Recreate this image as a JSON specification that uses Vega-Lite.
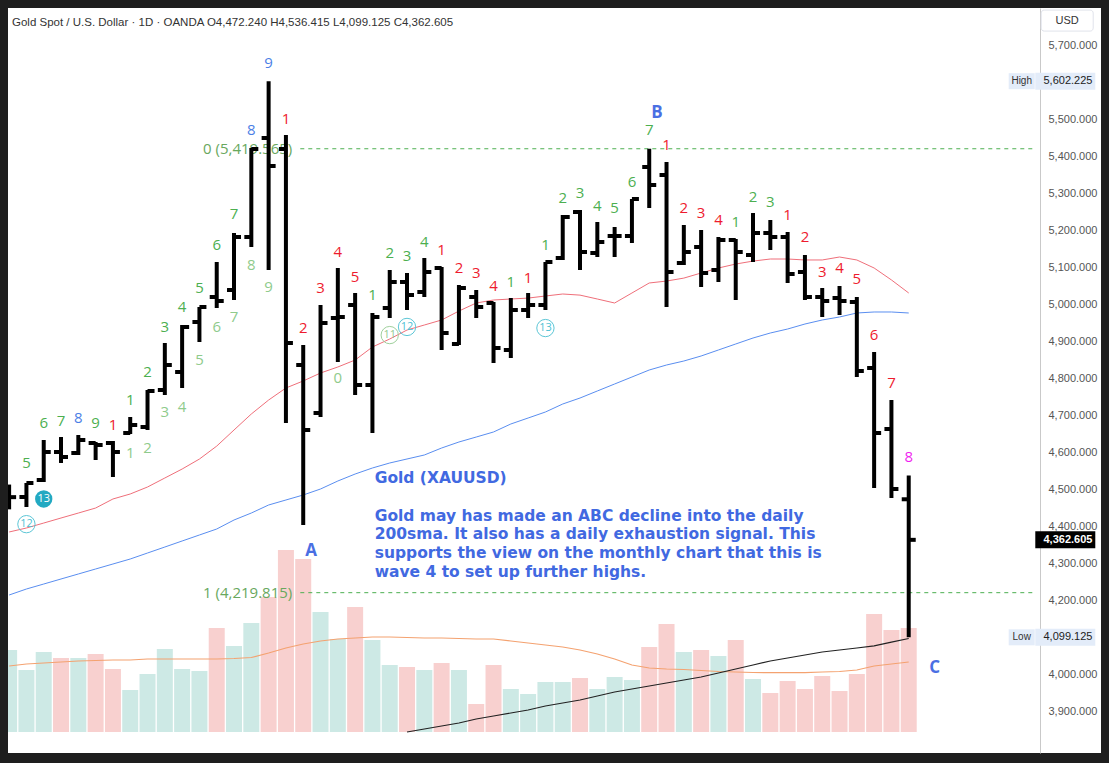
{
"$schema": "https://vega.github.io/schema/vega-lite/v6.json",
"width": 1093, "height": 745, "autosize": "none",
"padding": {"left": 8, "top": 8, "right": 8, "bottom": 10},
"background": "#1e1e1e",
"config": {"view": {"fill": "#ffffff", "stroke": null}, "font": "Liberation Sans"},
"title": {"text": "Gold Spot / U.S. Dollar · 1D · OANDA  O4,472.240   H4,536.415   L4,099.125   C4,362.605", "anchor": "start", "frame": "group", "dx": 4, "dy": 24, "font": "Liberation Sans", "fontSize": 11.5, "fontWeight": "normal", "color": "#333333"},
"datasets": {
"ohlc": [
{"i":-2,"o":4485,"h":4512,"l":4445,"c":4478},
{"i":-1,"o":4478.4,"h":4516.2,"l":4451.4,"c":4516.2},
{"i":0,"o":4524.3,"h":4632.4,"l":4518.9,"c":4600},
{"i":1,"o":4600,"h":4640.5,"l":4570.3,"c":4586.5},
{"i":2,"o":4597.3,"h":4645.9,"l":4591.9,"c":4632.4},
{"i":3,"o":4624.3,"h":4627,"l":4578.4,"c":4618.9},
{"i":4,"o":4624.3,"h":4629.7,"l":4532.4,"c":4600},
{"i":5,"o":4651.4,"h":4694.6,"l":4648.7,"c":4673},
{"i":6,"o":4667.6,"h":4767.6,"l":4659.5,"c":4764.9},
{"i":7,"o":4767.6,"h":4894.6,"l":4754.1,"c":4835.1},
{"i":8,"o":4816.2,"h":4943.2,"l":4773,"c":4937.8},
{"i":9,"o":4951.4,"h":4991.9,"l":4897.3,"c":4991.9},
{"i":10,"o":5018.9,"h":5113.5,"l":4989.2,"c":5008.1},
{"i":11,"o":5037.8,"h":5191.9,"l":5010.8,"c":5181.1},
{"i":12,"o":5181.1,"h":5421.6,"l":5154.1,"c":5418.9},
{"i":13,"o":5448.6,"h":5602.225,"l":5091.9,"c":5373},
{"i":14,"o":5418.9,"h":5456.8,"l":4678.4,"c":4894.6},
{"i":15,"o":4835.1,"h":4889.2,"l":4402.7,"c":4659.5},
{"i":16,"o":4705.4,"h":4997.3,"l":4694.6,"c":4948.6},
{"i":17,"o":4962.2,"h":5097.3,"l":4843.2,"c":4964.9},
{"i":18,"o":4997.3,"h":5029.7,"l":4754.1,"c":4781.1},
{"i":19,"o":4781.1,"h":4975.7,"l":4651.4,"c":4964.9},
{"i":20,"o":4989.2,"h":5091.9,"l":4962.2,"c":5059.5},
{"i":21,"o":5059.5,"h":5083.8,"l":4983.8,"c":5024.3},
{"i":22,"o":5032.4,"h":5124.3,"l":5018.9,"c":5086.5},
{"i":23,"o":5097.3,"h":5100,"l":4875.7,"c":4921.6},
{"i":24,"o":4891.9,"h":5051.4,"l":4889.2,"c":5043.2},
{"i":25,"o":5018.9,"h":5037.8,"l":4962.2,"c":4991.9},
{"i":26,"o":5002.7,"h":5005.4,"l":4840.5,"c":4881.1},
{"i":27,"o":4875.7,"h":5016.2,"l":4854,"c":4983.8},
{"i":28,"o":4983.8,"h":5029.7,"l":4962.2,"c":4997.3},
{"i":29,"o":4997.3,"h":5113.5,"l":4983.8,"c":5113.5},
{"i":30,"o":5124.3,"h":5240.5,"l":5118.9,"c":5235.1},
{"i":31,"o":5248.6,"h":5254,"l":5091.9,"c":5140.5},
{"i":32,"o":5137.8,"h":5221.6,"l":5127,"c":5167.6},
{"i":33,"o":5183.8,"h":5208.1,"l":5127,"c":5183.8},
{"i":34,"o":5183.8,"h":5283.8,"l":5164.9,"c":5283.8},
{"i":35,"o":5370.3,"h":5419.6,"l":5259.5,"c":5321.6},
{"i":36,"o":5348.6,"h":5383.8,"l":4991.9,"c":5086.5},
{"i":37,"o":5110.8,"h":5213.5,"l":5105.4,"c":5140.5},
{"i":38,"o":5154.1,"h":5200,"l":5045.9,"c":5083.8},
{"i":39,"o":5091.9,"h":5181.1,"l":5059.5,"c":5173},
{"i":40,"o":5173,"h":5175.7,"l":5010.8,"c":5140.5},
{"i":41,"o":5132.4,"h":5245.9,"l":5113.5,"c":5191.9},
{"i":42,"o":5191.9,"h":5227,"l":5145.9,"c":5181.1},
{"i":43,"o":5181.1,"h":5194.6,"l":5056.8,"c":5081.1},
{"i":44,"o":5086.5,"h":5132.4,"l":5010.8,"c":5018.9},
{"i":45,"o":5018.9,"h":5043.2,"l":4964.9,"c":5008.1},
{"i":46,"o":5016.2,"h":5048.6,"l":4970.3,"c":5008.1},
{"i":47,"o":5005.4,"h":5018.9,"l":4802.7,"c":4818.9},
{"i":48,"o":4827,"h":4870.3,"l":4502.7,"c":4651.4},
{"i":49,"o":4662.2,"h":4740.5,"l":4475.7,"c":4500},
{"i":50,"o":4472.24,"h":4536.415,"l":4099.125,"c":4362.605}
],
"vol": [
{"i":-2,"v":82,"d":"up"},{"i":-1,"v":62,"d":"up"},{"i":0,"v":80,"d":"up"},{"i":1,"v":74,"d":"down"},{"i":2,"v":74,"d":"up"},{"i":3,"v":78,"d":"down"},{"i":4,"v":63,"d":"down"},{"i":5,"v":42,"d":"up"},{"i":6,"v":58,"d":"up"},{"i":7,"v":83,"d":"up"},{"i":8,"v":63,"d":"up"},{"i":9,"v":61,"d":"up"},{"i":10,"v":104,"d":"down"},{"i":11,"v":86,"d":"up"},{"i":12,"v":109,"d":"up"},{"i":13,"v":135,"d":"down"},{"i":14,"v":182,"d":"down"},{"i":15,"v":173,"d":"down"},{"i":16,"v":120,"d":"up"},{"i":17,"v":93,"d":"up"},{"i":18,"v":125,"d":"down"},{"i":19,"v":92,"d":"up"},{"i":20,"v":67,"d":"up"},{"i":21,"v":65,"d":"down"},{"i":22,"v":62,"d":"up"},{"i":23,"v":69,"d":"down"},{"i":24,"v":62,"d":"up"},{"i":25,"v":28,"d":"down"},{"i":26,"v":67,"d":"down"},{"i":27,"v":43,"d":"up"},{"i":28,"v":38,"d":"up"},{"i":29,"v":50,"d":"up"},{"i":30,"v":50,"d":"up"},{"i":31,"v":54,"d":"down"},{"i":32,"v":43,"d":"up"},{"i":33,"v":55,"d":"up"},{"i":34,"v":52,"d":"up"},{"i":35,"v":85,"d":"down"},{"i":36,"v":108,"d":"down"},{"i":37,"v":80,"d":"up"},{"i":38,"v":82,"d":"down"},{"i":39,"v":76,"d":"up"},{"i":40,"v":92,"d":"down"},{"i":41,"v":53,"d":"up"},{"i":42,"v":39,"d":"down"},{"i":43,"v":51,"d":"down"},{"i":44,"v":43,"d":"down"},{"i":45,"v":56,"d":"down"},{"i":46,"v":41,"d":"down"},{"i":47,"v":58,"d":"down"},{"i":48,"v":118,"d":"down"},{"i":49,"v":102,"d":"down"},{"i":50,"v":104,"d":"down"}
],
"ma": [
{"i":-2,"r":4383.8,"b":4213.5,"vm":66},
{"i":-1,"r":4394.6,"b":4229.7,"vm":68},
{"i":0,"r":4408,"b":4243.2,"vm":69},
{"i":1,"r":4421.6,"b":4256.8,"vm":70},
{"i":2,"r":4435,"b":4270.3,"vm":71},
{"i":3,"r":4448.6,"b":4283.8,"vm":71.5},
{"i":4,"r":4473,"b":4297.3,"vm":72},
{"i":5,"r":4486.5,"b":4310.8,"vm":72},
{"i":6,"r":4505.4,"b":4327,"vm":73},
{"i":7,"r":4529.7,"b":4343.2,"vm":73},
{"i":8,"r":4554,"b":4359.5,"vm":73},
{"i":9,"r":4581,"b":4375.7,"vm":73},
{"i":10,"r":4616,"b":4391.9,"vm":73},
{"i":11,"r":4659.5,"b":4416.2,"vm":73.5},
{"i":12,"r":4702.7,"b":4435.1,"vm":74.5},
{"i":13,"r":4740.5,"b":4456.8,"vm":79},
{"i":14,"r":4773,"b":4470.3,"vm":84},
{"i":15,"r":4792,"b":4483.8,"vm":88},
{"i":16,"r":4813.5,"b":4500,"vm":91},
{"i":17,"r":4829.7,"b":4521.6,"vm":93},
{"i":18,"r":4848.6,"b":4540.5,"vm":94},
{"i":19,"r":4883.8,"b":4556.8,"vm":95},
{"i":20,"r":4905.4,"b":4570.3,"vm":95},
{"i":21,"r":4929.7,"b":4581.1,"k":3843.2,"vm":94.5},
{"i":22,"r":4943.2,"b":4591.9,"k":3851.4,"vm":94},
{"i":23,"r":4956.8,"b":4610.8,"k":3859.5,"vm":94},
{"i":24,"r":4981,"b":4627,"k":3867.6,"vm":93.5},
{"i":25,"r":5002.7,"b":4640.5,"k":3878.4,"vm":93},
{"i":26,"r":5010.8,"b":4654.1,"k":3886.5,"vm":93},
{"i":27,"r":5013.5,"b":4675.7,"k":3894.6,"vm":91},
{"i":28,"r":5016,"b":4691.9,"k":3902.7,"vm":89},
{"i":29,"r":5021.6,"b":4708.1,"k":3913.5,"vm":87},
{"i":30,"r":5027,"b":4729.7,"k":3921.6,"vm":85},
{"i":31,"r":5024,"b":4745.9,"k":3929.7,"vm":82},
{"i":32,"r":5013.5,"b":4764.9,"k":3940.5,"vm":78},
{"i":33,"r":5002.7,"b":4783.8,"k":3951.4,"vm":73},
{"i":34,"r":5029.7,"b":4802.7,"k":3959.5,"vm":67},
{"i":35,"r":5056.8,"b":4821.6,"k":3967.6,"vm":64},
{"i":36,"r":5062,"b":4835.1,"k":3975.7,"vm":63},
{"i":37,"r":5070,"b":4845.9,"k":3983.8,"vm":62.5},
{"i":38,"r":5083.8,"b":4859.5,"k":3991.9,"vm":61.5},
{"i":39,"r":5097.3,"b":4875.7,"k":4002.7,"vm":60.5},
{"i":40,"r":5108,"b":4891.9,"k":4013.5,"vm":60},
{"i":41,"r":5116,"b":4908.1,"k":4024.3,"vm":59.5},
{"i":42,"r":5121.6,"b":4921.6,"k":4035.1,"vm":59.4},
{"i":43,"r":5121.6,"b":4932.4,"k":4043.2,"vm":59.4},
{"i":44,"r":5119,"b":4945.9,"k":4051.4,"vm":59.4},
{"i":45,"r":5119,"b":4956.8,"k":4059.5,"vm":60},
{"i":46,"r":5127,"b":4964.9,"k":4064.9,"vm":60.5},
{"i":47,"r":5119,"b":4975.7,"k":4070.3,"vm":62},
{"i":48,"r":5097.3,"b":4978.4,"k":4076,"vm":66},
{"i":49,"r":5065,"b":4978.4,"k":4086,"vm":68},
{"i":50,"r":5029.7,"b":4975.7,"k":4096,"vm":70}
],
"td": [
{"i":-1,"p":4570,"t":"5","c":"g"},{"i":0,"p":4678,"t":"6","c":"g"},{"i":1,"p":4684,"t":"7","c":"g"},{"i":2,"p":4692,"t":"8","c":"b"},{"i":3,"p":4678,"t":"9","c":"g"},{"i":4,"p":4673,"t":"1","c":"r"},
{"i":5,"p":4740,"t":"1","c":"g"},{"i":5,"p":4597,"t":"1","c":"lg"},{"i":6,"p":4816,"t":"2","c":"g"},{"i":6,"p":4611,"t":"2","c":"lg"},{"i":7,"p":4938,"t":"3","c":"g"},{"i":7,"p":4708,"t":"3","c":"lg"},{"i":8,"p":4992,"t":"4","c":"g"},{"i":8,"p":4722,"t":"4","c":"lg"},{"i":9,"p":5043,"t":"5","c":"g"},{"i":9,"p":4849,"t":"5","c":"lg"},{"i":10,"p":5159,"t":"6","c":"g"},{"i":10,"p":4938,"t":"6","c":"lg"},{"i":11,"p":5243,"t":"7","c":"g"},{"i":11,"p":4965,"t":"7","c":"lg"},{"i":12,"p":5470,"t":"8","c":"b"},{"i":12,"p":5105,"t":"8","c":"lg"},{"i":13,"p":5651,"t":"9","c":"b"},{"i":13,"p":5046,"t":"9","c":"lg"},
{"i":14,"p":5500,"t":"1","c":"r"},{"i":15,"p":4935,"t":"2","c":"r"},{"i":16,"p":5043,"t":"3","c":"r"},{"i":17,"p":5140,"t":"4","c":"r"},{"i":17,"p":4800,"t":"0","c":"lg"},{"i":18,"p":5073,"t":"5","c":"r"},
{"i":19,"p":5024,"t":"1","c":"g"},{"i":20,"p":5138,"t":"2","c":"g"},{"i":21,"p":5130,"t":"3","c":"g"},{"i":22,"p":5168,"t":"4","c":"g"},{"i":23,"p":5146,"t":"1","c":"r"},{"i":24,"p":5097,"t":"2","c":"r"},{"i":25,"p":5084,"t":"3","c":"r"},{"i":26,"p":5049,"t":"4","c":"r"},{"i":27,"p":5060,"t":"1","c":"g"},{"i":28,"p":5070,"t":"1","c":"r"},{"i":29,"p":5159,"t":"1","c":"g"},
{"i":30,"p":5286,"t":"2","c":"g"},{"i":31,"p":5300,"t":"3","c":"g"},{"i":32,"p":5265,"t":"4","c":"g"},{"i":33,"p":5259,"t":"5","c":"g"},{"i":34,"p":5330,"t":"6","c":"g"},{"i":35,"p":5470,"t":"7","c":"g"},
{"i":36,"p":5430,"t":"1","c":"r"},{"i":37,"p":5259,"t":"2","c":"r"},{"i":38,"p":5246,"t":"3","c":"r"},{"i":39,"p":5227,"t":"4","c":"r"},{"i":40,"p":5222,"t":"1","c":"g"},{"i":41,"p":5289,"t":"2","c":"g"},{"i":42,"p":5276,"t":"3","c":"g"},
{"i":43,"p":5241,"t":"1","c":"r"},{"i":44,"p":5181,"t":"2","c":"r"},{"i":45,"p":5086,"t":"3","c":"r"},{"i":46,"p":5097,"t":"4","c":"r"},{"i":47,"p":5068,"t":"5","c":"r"},{"i":48,"p":4916,"t":"6","c":"r"},{"i":49,"p":4786,"t":"7","c":"r"},{"i":50,"p":4586,"t":"8","c":"m"}
],
"circ": [
{"i":-1,"p":4405,"t":"12","s":"ring"},
{"i":0,"p":4473,"t":"13","s":"fill"},
{"i":20,"p":4916,"t":"11","s":"ringg"},
{"i":21,"p":4938,"t":"12","s":"ring"},
{"i":29,"p":4935,"t":"13","s":"ring"}
],
"abc": [
{"i":15.46,"p":4332,"t":"A"},{"i":35.45,"p":5516,"t":"B"},{"i":51.5,"p":4016,"t":"C"}
],
"fib": [
{"i":14.83,"i2":57.33,"p":5419.565,"t":"0 (5,419.565)"},
{"i":14.83,"i2":57.33,"p":4219.815,"t":"1 (4,219.815)"}
],
"note": [
{"i":19.13,"p":4529.7,"t":"Gold (XAUUSD)"}
],
"para": [
{"i":19.13,"p":4447,"t":"Gold may has made an ABC decline into the daily\n200sma. It also has a daily exhaustion signal. This\nsupports the view on the monthly chart that this is\nwave 4 to set up further highs."}
],
"tags": [
{"p":5602.225,"label":"5,602.225","tag":"High","kind":"hl"},
{"p":4099.125,"label":"4,099.125","tag":"Low","kind":"hl"},
{"p":4362.605,"label":"4,362.605","tag":"","kind":"last"}
],
"usd": [{"p":5766,"t":"USD"}]
},
"layer": [
 {"data": {"name": "vol"}, "mark": {"type": "bar", "width": 16, "clip": true},
  "encoding": {"x": {"field": "i", "type": "quantitative", "scale": {"domain": [-1.776, 60.825], "nice": false, "zero": false}, "axis": null},
   "y": {"field": "v", "type": "quantitative", "scale": {"domain": [-21, 724], "nice": false, "zero": false}, "axis": null},
   "y2": {"datum": 0},
   "fill": {"field": "d", "type": "nominal", "scale": {"domain": ["up","down"], "range": ["#cde9e5","#f8d0cf"]}, "legend": null}}},
 {"data": {"name": "ma"}, "mark": {"type": "line", "color": "#f4a270", "strokeWidth": 1.2, "clip": true},
  "encoding": {"x": {"field": "i", "type": "quantitative", "scale": {"domain": [-1.776, 60.825], "nice": false, "zero": false}, "axis": null},
   "y": {"field": "vm", "type": "quantitative", "scale": {"domain": [-21, 724], "nice": false, "zero": false}, "axis": null}}},
 {"data": {"name": "ma"}, "mark": {"type": "line", "color": "#ef6f7a", "strokeWidth": 1, "clip": true},
  "encoding": {"x": {"field": "i", "type": "quantitative", "scale": {"domain": [-1.776, 60.825], "nice": false, "zero": false}, "axis": null},
   "y": {"field": "r", "type": "quantitative", "scale": {"domain": [3786.5, 5800], "nice": false, "zero": false}, "axis": null}}},
 {"data": {"name": "ma"}, "mark": {"type": "line", "color": "#5a8ef0", "strokeWidth": 1, "clip": true},
  "encoding": {"x": {"field": "i", "type": "quantitative", "scale": {"domain": [-1.776, 60.825], "nice": false, "zero": false}, "axis": null},
   "y": {"field": "b", "type": "quantitative", "scale": {"domain": [3786.5, 5800], "nice": false, "zero": false}, "axis": null}}},
 {"data": {"name": "ma"}, "mark": {"type": "line", "color": "#222222", "strokeWidth": 1.2, "clip": true},
  "encoding": {"x": {"field": "i", "type": "quantitative", "scale": {"domain": [-1.776, 60.825], "nice": false, "zero": false}, "axis": null},
   "y": {"field": "k", "type": "quantitative", "scale": {"domain": [3786.5, 5800], "nice": false, "zero": false}, "axis": null}}},
 {"data": {"name": "fib"}, "mark": {"type": "rule", "color": "#4caf50", "strokeWidth": 1, "strokeDash": [4, 4]},
  "encoding": {"x": {"field": "i", "type": "quantitative", "scale": {"domain": [-1.776, 60.825], "nice": false, "zero": false}, "axis": null},
   "x2": {"field": "i2"}, "y": {"field": "p", "type": "quantitative", "scale": {"domain": [3786.5, 5800], "nice": false, "zero": false}, "axis": null}}},
 {"data": {"name": "fib"}, "mark": {"type": "text", "align": "right", "baseline": "middle", "dx": -8, "font": "Open Sans", "fontSize": 15, "color": "#69a85e"},
  "encoding": {"x": {"field": "i", "type": "quantitative", "scale": {"domain": [-1.776, 60.825], "nice": false, "zero": false}, "axis": null},
   "text": {"field": "t"}, "y": {"field": "p", "type": "quantitative", "scale": {"domain": [3786.5, 5800], "nice": false, "zero": false}, "axis": null}}},
 {"data": {"name": "ohlc"}, "mark": {"type": "rule", "color": "#000000", "strokeWidth": 4, "clip": true},
  "encoding": {"x": {"field": "i", "type": "quantitative", "scale": {"domain": [-1.776, 60.825], "nice": false, "zero": false},
    "axis": {"orient": "bottom", "offset": -21, "values": [0,3,6,9,12,15,18,21,24,27,30,35,38,41,44,47,50,53,57],
     "labelExpr": "datum.value==15?'Feb':datum.value==35?'Mar':datum.value==57?'Ap':datum.value==0?'12':datum.value==3?'15':datum.value==6?'20':datum.value==9?'23':datum.value==12?'28':datum.value==18?'5':datum.value==21?'10':datum.value==24?'13':datum.value==27?'18':datum.value==30?'23':datum.value==38?'5':datum.value==41?'10':datum.value==44?'13':datum.value==47?'18':datum.value==50?'23':datum.value==53?'26':''",
     "title": null, "ticks": false, "grid": false, "domainColor": "#c9c9c9", "labelColor": "#555555", "labelFont": "Liberation Sans", "labelFontSize": 11, "labelPadding": 6, "labelFlush": false, "labelOverlap": false}},
   "y": {"field": "l", "type": "quantitative", "scale": {"domain": [3786.5, 5800], "nice": false, "zero": false},
    "axis": {"orient": "right", "offset": -61, "values": [3900,4000,4200,4300,4400,4500,4600,4700,4800,4900,5000,5100,5200,5300,5400,5500,5700], "format": ",.3f", "title": null, "ticks": false, "grid": false, "domainColor": "#c9c9c9", "labelColor": "#555555", "labelFont": "Liberation Sans", "labelFontSize": 11, "labelPadding": 8, "labelAlign": "left", "labelBaseline": "middle", "labelFlush": false, "labelOverlap": false}},
   "y2": {"field": "h"}}},
 {"data": {"name": "ohlc"}, "mark": {"type": "tick", "orient": "horizontal", "size": 7, "thickness": 4, "xOffset": -3.5, "color": "#000000", "opacity": 1, "clip": true},
  "encoding": {"x": {"field": "i", "type": "quantitative", "scale": {"domain": [-1.776, 60.825], "nice": false, "zero": false}, "axis": null},
   "y": {"field": "o", "type": "quantitative", "scale": {"domain": [3786.5, 5800], "nice": false, "zero": false}, "axis": null}}},
 {"data": {"name": "ohlc"}, "mark": {"type": "tick", "orient": "horizontal", "size": 7, "thickness": 4, "xOffset": 3.5, "color": "#000000", "opacity": 1, "clip": true},
  "encoding": {"x": {"field": "i", "type": "quantitative", "scale": {"domain": [-1.776, 60.825], "nice": false, "zero": false}, "axis": null},
   "y": {"field": "c", "type": "quantitative", "scale": {"domain": [3786.5, 5800], "nice": false, "zero": false}, "axis": null}}},
 {"data": {"name": "td"}, "mark": {"type": "text", "align": "center", "baseline": "middle", "font": "Open Sans", "fontSize": 15, "clip": true},
  "encoding": {"x": {"field": "i", "type": "quantitative", "scale": {"domain": [-1.776, 60.825], "nice": false, "zero": false}, "axis": null},
   "text": {"field": "t"}, "y": {"field": "p", "type": "quantitative", "scale": {"domain": [3786.5, 5800], "nice": false, "zero": false}, "axis": null},
   "color": {"field": "c", "type": "nominal", "scale": {"domain": ["g","lg","r","b","m"], "range": ["#4caf50","#8fcb8c","#ee1b2e","#4c7fe6","#f01ff0"]}, "legend": null}}},
 {"data": {"name": "circ"}, "transform": [{"filter": "datum.s == 'fill'"}], "mark": {"type": "point", "shape": "circle", "size": 300, "filled": true, "color": "#22a9c2", "opacity": 1, "clip": true},
  "encoding": {"x": {"field": "i", "type": "quantitative", "scale": {"domain": [-1.776, 60.825], "nice": false, "zero": false}, "axis": null},
   "y": {"field": "p", "type": "quantitative", "scale": {"domain": [3786.5, 5800], "nice": false, "zero": false}, "axis": null}}},
 {"data": {"name": "circ"}, "transform": [{"filter": "datum.s == 'ring'"}], "mark": {"type": "point", "shape": "circle", "size": 300, "filled": false, "color": "#5cc6d6", "strokeWidth": 1, "opacity": 1, "clip": true},
  "encoding": {"x": {"field": "i", "type": "quantitative", "scale": {"domain": [-1.776, 60.825], "nice": false, "zero": false}, "axis": null},
   "y": {"field": "p", "type": "quantitative", "scale": {"domain": [3786.5, 5800], "nice": false, "zero": false}, "axis": null}}},
 {"data": {"name": "circ"}, "transform": [{"filter": "datum.s == 'ringg'"}], "mark": {"type": "point", "shape": "circle", "size": 300, "filled": false, "color": "#9fd09c", "strokeWidth": 1, "opacity": 1, "clip": true},
  "encoding": {"x": {"field": "i", "type": "quantitative", "scale": {"domain": [-1.776, 60.825], "nice": false, "zero": false}, "axis": null},
   "y": {"field": "p", "type": "quantitative", "scale": {"domain": [3786.5, 5800], "nice": false, "zero": false}, "axis": null}}},
 {"data": {"name": "circ"}, "transform": [{"filter": "datum.s == 'fill'"}], "mark": {"type": "text", "align": "center", "baseline": "middle", "font": "Open Sans", "fontSize": 11, "color": "#ffffff", "clip": true},
  "encoding": {"x": {"field": "i", "type": "quantitative", "scale": {"domain": [-1.776, 60.825], "nice": false, "zero": false}, "axis": null},
   "text": {"field": "t"}, "y": {"field": "p", "type": "quantitative", "scale": {"domain": [3786.5, 5800], "nice": false, "zero": false}, "axis": null}}},
 {"data": {"name": "circ"}, "transform": [{"filter": "datum.s == 'ring'"}], "mark": {"type": "text", "align": "center", "baseline": "middle", "font": "Open Sans", "fontSize": 11, "color": "#4dbfd2", "clip": true},
  "encoding": {"x": {"field": "i", "type": "quantitative", "scale": {"domain": [-1.776, 60.825], "nice": false, "zero": false}, "axis": null},
   "text": {"field": "t"}, "y": {"field": "p", "type": "quantitative", "scale": {"domain": [3786.5, 5800], "nice": false, "zero": false}, "axis": null}}},
 {"data": {"name": "circ"}, "transform": [{"filter": "datum.s == 'ringg'"}], "mark": {"type": "text", "align": "center", "baseline": "middle", "font": "Open Sans", "fontSize": 11, "color": "#94c990", "clip": true},
  "encoding": {"x": {"field": "i", "type": "quantitative", "scale": {"domain": [-1.776, 60.825], "nice": false, "zero": false}, "axis": null},
   "text": {"field": "t"}, "y": {"field": "p", "type": "quantitative", "scale": {"domain": [3786.5, 5800], "nice": false, "zero": false}, "axis": null}}},
 {"data": {"name": "abc"}, "mark": {"type": "text", "align": "center", "baseline": "middle", "font": "Open Sans", "fontSize": 17, "fontWeight": "bold", "color": "#4a6fe3"},
  "encoding": {"x": {"field": "i", "type": "quantitative", "scale": {"domain": [-1.776, 60.825], "nice": false, "zero": false}, "axis": null},
   "text": {"field": "t"}, "y": {"field": "p", "type": "quantitative", "scale": {"domain": [3786.5, 5800], "nice": false, "zero": false}, "axis": null}}},
 {"data": {"name": "note"}, "mark": {"type": "text", "align": "left", "baseline": "middle", "font": "DejaVu Sans", "fontSize": 15.5, "fontWeight": "bold", "color": "#4169e1"},
  "encoding": {"x": {"field": "i", "type": "quantitative", "scale": {"domain": [-1.776, 60.825], "nice": false, "zero": false}, "axis": null},
   "text": {"field": "t"}, "y": {"field": "p", "type": "quantitative", "scale": {"domain": [3786.5, 5800], "nice": false, "zero": false}, "axis": null}}},
 {"data": {"name": "para"}, "mark": {"type": "text", "align": "left", "baseline": "top", "lineBreak": "\n", "lineHeight": 18.7, "font": "DejaVu Sans", "fontSize": 15.5, "fontWeight": "bold", "color": "#4169e1"},
  "encoding": {"x": {"field": "i", "type": "quantitative", "scale": {"domain": [-1.776, 60.825], "nice": false, "zero": false}, "axis": null},
   "text": {"field": "t"}, "y": {"field": "p", "type": "quantitative", "scale": {"domain": [3786.5, 5800], "nice": false, "zero": false}, "axis": null}}},
 {"data": {"name": "usd"}, "mark": {"type": "tick", "orient": "horizontal", "size": 52, "thickness": 21, "color": "#ffffff", "stroke": "#e0e3eb", "strokeWidth": 1, "cornerRadius": 3, "opacity": 1},
  "encoding": {"x": {"datum": 59.16, "type": "quantitative", "scale": {"domain": [-1.776, 60.825], "nice": false, "zero": false}, "axis": null},
   "y": {"field": "p", "type": "quantitative", "scale": {"domain": [3786.5, 5800], "nice": false, "zero": false}, "axis": null}}},
 {"data": {"name": "usd"}, "mark": {"type": "text", "align": "center", "baseline": "middle", "font": "Liberation Sans", "fontSize": 11, "color": "#333333"},
  "encoding": {"x": {"datum": 59.16, "type": "quantitative", "scale": {"domain": [-1.776, 60.825], "nice": false, "zero": false}, "axis": null},
   "text": {"field": "t"}, "y": {"field": "p", "type": "quantitative", "scale": {"domain": [3786.5, 5800], "nice": false, "zero": false}, "axis": null}}},
 {"data": {"name": "tags"}, "transform": [{"filter": "datum.kind == 'hl'"}], "mark": {"type": "tick", "orient": "horizontal", "size": 60, "thickness": 17, "color": "#e3ecf9", "opacity": 1},
  "encoding": {"x": {"datum": 59.05, "type": "quantitative", "scale": {"domain": [-1.776, 60.825], "nice": false, "zero": false}, "axis": null},
   "y": {"field": "p", "type": "quantitative", "scale": {"domain": [3786.5, 5800], "nice": false, "zero": false}, "axis": null}}},
 {"data": {"name": "tags"}, "transform": [{"filter": "datum.kind == 'hl'"}], "mark": {"type": "tick", "orient": "horizontal", "size": 26, "thickness": 16, "color": "#e3ecf9", "opacity": 1},
  "encoding": {"x": {"datum": 56.53, "type": "quantitative", "scale": {"domain": [-1.776, 60.825], "nice": false, "zero": false}, "axis": null},
   "y": {"field": "p", "type": "quantitative", "scale": {"domain": [3786.5, 5800], "nice": false, "zero": false}, "axis": null}}},
 {"data": {"name": "tags"}, "transform": [{"filter": "datum.kind == 'last'"}], "mark": {"type": "tick", "orient": "horizontal", "size": 60, "thickness": 17, "color": "#000000", "opacity": 1},
  "encoding": {"x": {"datum": 59.05, "type": "quantitative", "scale": {"domain": [-1.776, 60.825], "nice": false, "zero": false}, "axis": null},
   "y": {"field": "p", "type": "quantitative", "scale": {"domain": [3786.5, 5800], "nice": false, "zero": false}, "axis": null}}},
 {"data": {"name": "tags"}, "transform": [{"filter": "datum.kind == 'hl'"}], "mark": {"type": "text", "align": "left", "baseline": "middle", "font": "Liberation Sans", "fontSize": 11, "color": "#222222"},
  "encoding": {"x": {"datum": 57.79, "type": "quantitative", "scale": {"domain": [-1.776, 60.825], "nice": false, "zero": false}, "axis": null},
   "text": {"field": "label"}, "y": {"field": "p", "type": "quantitative", "scale": {"domain": [3786.5, 5800], "nice": false, "zero": false}, "axis": null}}},
 {"data": {"name": "tags"}, "transform": [{"filter": "datum.kind == 'hl'"}], "mark": {"type": "text", "align": "center", "baseline": "middle", "font": "Liberation Sans", "fontSize": 10, "color": "#333333"},
  "encoding": {"x": {"datum": 56.53, "type": "quantitative", "scale": {"domain": [-1.776, 60.825], "nice": false, "zero": false}, "axis": null},
   "text": {"field": "tag"}, "y": {"field": "p", "type": "quantitative", "scale": {"domain": [3786.5, 5800], "nice": false, "zero": false}, "axis": null}}},
 {"data": {"name": "tags"}, "transform": [{"filter": "datum.kind == 'last'"}], "mark": {"type": "text", "align": "left", "baseline": "middle", "font": "Liberation Sans", "fontSize": 11, "fontWeight": "bold", "color": "#ffffff"},
  "encoding": {"x": {"datum": 57.79, "type": "quantitative", "scale": {"domain": [-1.776, 60.825], "nice": false, "zero": false}, "axis": null},
   "text": {"field": "label"}, "y": {"field": "p", "type": "quantitative", "scale": {"domain": [3786.5, 5800], "nice": false, "zero": false}, "axis": null}}}
],
"resolve": {"scale": {"y": "independent"}}
}
